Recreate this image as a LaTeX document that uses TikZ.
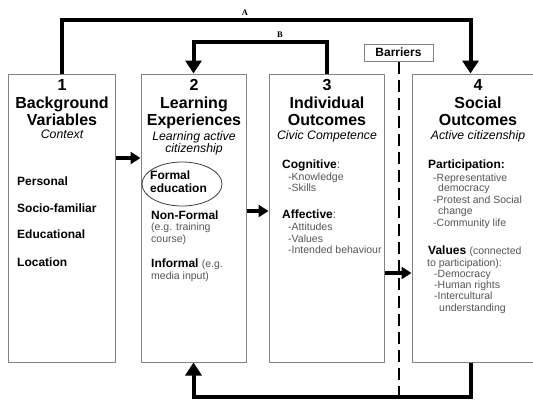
\documentclass[tikz,border=0pt]{standalone}
\usepackage{fontspec}
\setmainfont{Liberation Sans}
\newfontfamily\labfont{Liberation Serif}
\usetikzlibrary{arrows.meta,shapes.geometric}
\definecolor{boxgray}{RGB}{130,130,130}
\definecolor{subgray}{RGB}{85,85,85}
\begin{document}
\begin{tikzpicture}[x=1pt,y=-1pt,
  box/.style={draw=boxgray, line width=1pt, minimum width=#1, minimum height=288pt, inner sep=0pt},
  ttl/.style={anchor=base, inner sep=0pt, font=\fontsize{16}{18}\selectfont\bfseries},
  sub/.style={anchor=base, inner sep=0pt, font=\fontsize{12.3}{14}\selectfont\itshape},
  hd/.style={anchor=base west, inner sep=0pt, font=\fontsize{12}{14}\selectfont\bfseries},
  itm/.style={anchor=base west, inner sep=0pt, text=subgray, font=\fontsize{10.5}{12}\selectfont},
  fat/.style={line width=4pt, -{Triangle[length=13pt,width=16pt]}},
  short/.style={line width=4pt, -{Triangle[length=10pt,width=12pt]}},
  lab/.style={inner sep=0pt, font=\labfont\fontsize{8.5}{10}\selectfont\bfseries},
  barrier/.style={line width=2pt, dash pattern=on 12pt off 6pt}
]
\useasboundingbox (0,0) rectangle (533,400);
\fill[white] (0,0) rectangle (533,400);
\begin{scope}
\clip (0,0) rectangle (533,400);

% boxes
\node[box=107pt] (b1) at (61.5,218) {};
\node[box=105pt] (b2) at (193.5,218) {};
\node[box=115pt] (b3) at (326.5,218) {};
\node[box=133pt] (b4) at (478.5,218) {};

% barriers
\node[draw=boxgray, line width=1pt, minimum width=69pt, minimum height=17pt, inner sep=0pt,
      font=\fontsize{12}{14}\selectfont\bfseries] (bar) at (398.5,52.5) {Barriers};
\coordinate (dend) at (398,402);
\draw[barrier] (bar.south) -- (bar.south |- dend);

% box 1
\node[ttl] (n1) at (62,90) {1};
\node[ttl] (t1a) at (62,108) {Background};
\node[ttl] (t1b) at (62,125) {Variables};
\node[sub] (s1) at (62,138) {Context};
\node[hd] (p1) at (17,185) {Personal};
\node[hd] (p2) at (17,212) {Socio-familiar};
\node[hd] (p3) at (17,238) {Educational};
\node[hd] (p4) at (17,266) {Location};

% box 2
\node[ttl] (n2) at (194,90) {2};
\node[ttl] (t2a) at (194,108) {Learning};
\node[ttl] (t2b) at (194,125) {Experiences};
\node[sub] (s2a) at (194,140) {Learning active};
\node[sub] (s2b) at (194,152) {citizenship};
\node[draw=black!75, line width=0.8pt, ellipse, minimum width=80pt, minimum height=44pt, inner sep=0pt] (ell) at (182,184) {};
\node[hd] (f1) at (150,179) {Formal};
\node[hd] (f2) at (150,192) {education};
\node[hd] (nf) at (151,219) {Non-Formal};
\node[itm] (nf1) at (151,230) {(e.g. training};
\node[itm] (nf2) at (151,242) {course)};
\node[hd] (inf) at (151,267) {Informal {\mdseries\fontsize{10.5}{12}\selectfont\color{subgray}(e.g.}};
\node[itm] (inf2) at (151,279) {media input)};

% box 3
\node[ttl] (n3) at (327,90) {3};
\node[ttl] (t3a) at (327,108) {Individual};
\node[ttl] (t3b) at (327,125) {Outcomes};
\node[sub] (s3) at (327,139) {Civic Competence};
\node[hd] (cg) at (282,168) {Cognitive{\mdseries\color{subgray}:}};
\node[itm] (cg1) at (288,180) {-Knowledge};
\node[itm] (cg2) at (288,191) {-Skills};
\node[hd] (af) at (282,218) {Affective{\mdseries\color{subgray}:}};
\node[itm] (af1) at (288,230) {-Attitudes};
\node[itm] (af2) at (288,242) {-Values};
\node[itm] (af3) at (288,253) {-Intended behaviour};

% box 4
\node[ttl] (n4) at (478,90) {4};
\node[ttl] (t4a) at (478,108) {Social};
\node[ttl] (t4b) at (478,125) {Outcomes};
\node[sub] (s4) at (478,139) {Active citizenship};
\node[hd] (pa) at (428,168) {Participation:};
\node[itm] (pa1) at (433,181) {-Representative};
\node[itm] (pa2) at (438,191) {democracy};
\node[itm] (pa3) at (433,203) {-Protest and Social};
\node[itm] (pa4) at (438,214) {change};
\node[itm] (pa5) at (433,226) {-Community life};
\node[hd] (va) at (428,254) {Values {\mdseries\fontsize{10.5}{12}\selectfont\color{subgray}(connected}};
\node[itm] (va0) at (427,266) {to participation):};
\node[itm] (va1) at (434,277) {-Democracy};
\node[itm] (va2) at (434,288) {-Human rights};
\node[itm] (va3) at (434,299) {-Intercultural};
\node[itm] (va4) at (439,311) {understanding};

% connectors
\draw[fat] (b1.north) -- ++(0,-54) -| ([xshift=59pt]b4.north west);
\draw[fat] (b3.north) -- ++(0,-32) -| (b2.north);
\draw[fat] ([xshift=59pt]b4.south west) -- ++(0,34) -| (b2.south);
\draw[short] ([yshift=60pt]b1.east) -- ([yshift=60pt]b2.west);
\draw[short] ([yshift=7pt]b2.east) -- ([yshift=7pt]b3.west);
\draw[short] ([yshift=-55pt]b3.east) -- ([yshift=-55pt]b4.west);

% labels
\node[lab] (la) at (245,13) {A};
\node[lab] (lb) at (280,35) {B};
\end{scope}
\end{tikzpicture}
\end{document}
